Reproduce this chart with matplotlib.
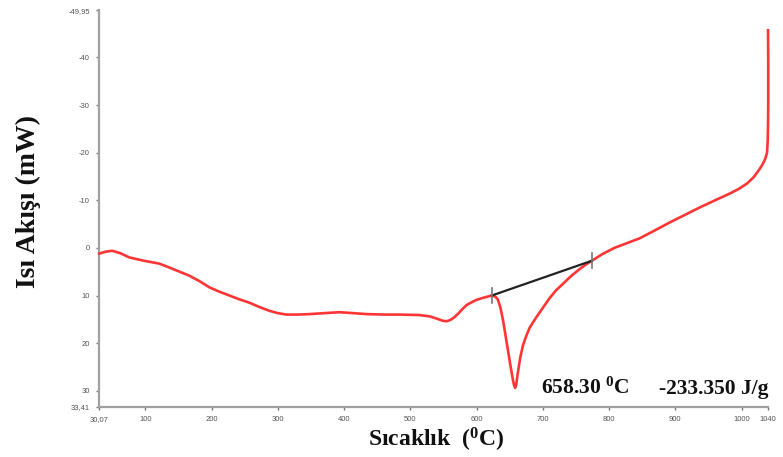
import matplotlib.pyplot as plt

plt.rcParams['mathtext.default'] = 'regular'

# DSC curve: temperature (C) vs heat flow (mW)
temp = [30.5, 40, 50, 62, 76, 98, 121, 136, 150, 166, 182, 197, 212, 227, 242, 257, 272, 287,
        300, 313, 330, 348, 370, 393, 414, 434, 460, 484, 514, 530, 541, 549, 555, 561, 567,
        573, 579, 585, 590, 600, 612, 623, 628, 632, 636, 640, 644, 648, 652, 655, 657, 658.3,
        660, 662, 666, 670, 675, 680, 690, 700, 710, 720, 730, 742, 756, 765, 774, 790, 808,
        827, 846, 868, 891, 914, 937, 960, 982, 996, 1008, 1018, 1027, 1032, 1036, 1038.5,
        1039.5, 1040, 1040.3, 1040.3, 1040]
flow = [1.2, 0.8, 0.6, 1.1, 2.0, 2.7, 3.3, 4.1, 4.9, 5.8, 7.0, 8.3, 9.2, 10.0, 10.8, 11.5, 12.4, 13.2,
        13.7, 14.0, 14.0, 13.9, 13.7, 13.5, 13.7, 13.9, 14.0, 14.0, 14.1, 14.4, 14.9, 15.3, 15.4, 15.1, 14.5,
        13.7, 12.8, 12.0, 11.6, 10.9, 10.4, 10.0, 10.2, 10.8, 12.5, 15.2, 18.6, 22.0, 25.4, 27.8, 29.0, 29.4,
        28.6, 26.5, 23.0, 20.5, 18.5, 16.8, 14.6, 12.6, 10.6, 8.9, 7.6, 6.0, 4.4, 3.5, 2.7, 1.3, 0.0,
        -1.0, -2.0, -3.6, -5.3, -6.9, -8.5, -10.0, -11.4, -12.4, -13.5, -14.8, -16.5, -17.6, -18.8, -20.0,
        -22.5, -26.0, -31.0, -38.0, -45.7]

# integration baseline for the melting peak
base_t = [623, 774]
base_f = [10.0, 2.7]

x_ticks = [30.07, 100, 200, 300, 400, 500, 600, 700, 800, 900, 1000, 1040]
x_labels = ['30,07', '100', '200', '300', '400', '500', '600', '700', '800', '900', '1000', '1040']
y_ticks = [-49.95, -40, -30, -20, -10, 0, 10, 20, 30, 33.41]
y_labels = ['-49,95', '-40', '-30', '-20', '-10', '0', '10', '20', '30', '33,41']

peak_label = '658.30 $^{0}$C'
enthalpy_label = '-233.350 J/g'

fig = plt.figure(figsize=(7.83, 4.57), dpi=100)
ax = fig.add_axes([0.1264, 0.1094, 0.8545, 0.8686])

ax.plot(temp, flow, color='#ff3535', lw=1.9, clip_on=False, zorder=3,
        solid_joinstyle='round')
ax.plot(base_t, base_f, color='#222222', lw=1.6, zorder=4)
for t, f in zip(base_t, base_f):
    ax.plot([t, t], [f - 1.6, f + 1.6], color='#777777', lw=1.2, zorder=5)

ax.set_xlim(30.07, 1040)
ax.set_ylim(33.41, -49.95)

ax.set_xticks(x_ticks)
ax.set_xticklabels(x_labels)
ax.set_yticks(y_ticks)
ax.set_yticklabels(y_labels)
ax.tick_params(length=2.5, width=1, color='#777777', labelsize=5.5,
               labelcolor='#555555', pad=4)
for lab in ax.get_xticklabels() + ax.get_yticklabels():
    lab.set_family('Liberation Sans')

for side in ['top', 'right']:
    ax.spines[side].set_visible(False)
for side in ['left', 'bottom']:
    ax.spines[side].set_color('#a0a0a0')
    ax.spines[side].set_linewidth(1.6)

serif = dict(family='Liberation Serif', fontweight='bold', color='#111111')
ax.text(698, 30.6, peak_label, fontsize=15.5, **serif)
ax.text(876, 30.6, enthalpy_label, fontsize=15.5, **serif)

fig.text(0.557, 0.037, 'Sıcaklık  ($^{0}$C)', fontsize=17, ha='center', va='center', **serif)
fig.text(0.036, 0.56, 'Isı Akışı (mW)', fontsize=20, rotation=90, ha='center', va='center', **serif)

fig.savefig('out.png', dpi=100)
